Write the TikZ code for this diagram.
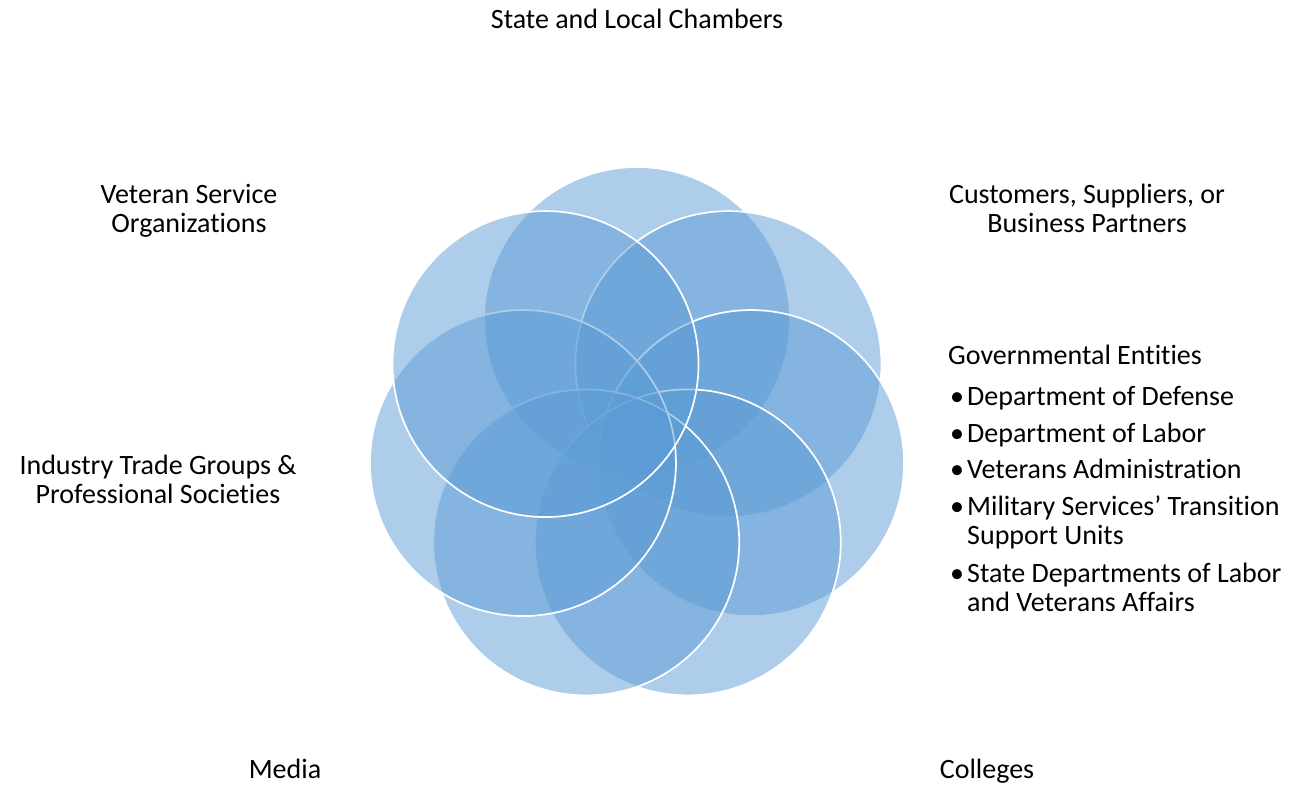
\documentclass[tikz,border=0pt]{standalone}
\usepackage{fontspec}
\setmainfont{Carlito}[Ligatures={NoCommon}]
\definecolor{cblue}{RGB}{91,155,213}
\begin{document}
\begin{tikzpicture}[x=1pt,y=-1pt,
  petal/.style={fill=cblue,fill opacity=0.5,draw=white,draw opacity=1,line width=1.7pt},
  lbl/.style={inner sep=0pt,anchor=base,font=\fontsize{28}{30}\selectfont},
  lbll/.style={inner sep=0pt,anchor=base west,font=\fontsize{28}{30}\selectfont}]
\useasboundingbox (0,0) rectangle (1309,785);
\foreach \k in {0,...,6}{
  \draw[petal] ({637+117*cos(90-\k*360/7)},{437-117*sin(90-\k*360/7)}) circle[radius=153];
}
\node[lbl] (t1) at (637,28) {State and Local Chambers};
\node[lbl] (c1) at (1087,203) {Customers, Suppliers, or};
\node[lbl] (c2) at (1087,232) {Business Partners};
\node[lbl] (v1) at (189,203) {Veteran Service};
\node[lbl] (v2) at (189,232) {Organizations};
\node[lbl] (i1) at (158,474) {Industry Trade Groups \&};
\node[lbl] (i2) at (158,503) {Professional Societies};
\node[lbl] (m1) at (285,778) {Media};
\node[lbl] (co) at (987,778) {Colleges};
\node[lbll] (g0) at (948,364) {Governmental Entities};
\foreach \y/\n in {405.5/b1,442/b2,478.5/b3,515/b4,582.5/b5}{
  \node[lbll] (\n d) at (950,\y) {\textbullet};
}
\node[lbll] (b1) at (967,405.5) {Department of Defense};
\node[lbll] (b2) at (967,442) {Department of Labor};
\node[lbll] (b3) at (967,478.5) {Veterans Administration};
\node[lbll] (b4) at (967,515) {Military Services’ Transition};
\node[lbll] (b4b) at (967,544.5) {Support Units};
\node[lbll] (b5) at (967,582.5) {State Departments of Labor};
\node[lbll] (b5b) at (967,611) {and Veterans Affairs};
\end{tikzpicture}
\end{document}
